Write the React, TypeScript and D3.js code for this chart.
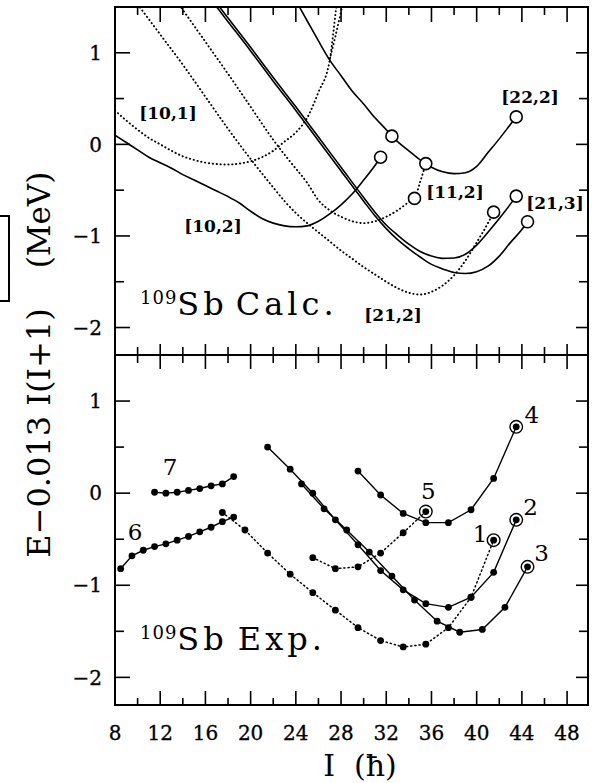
import React from 'react';
import * as d3 from 'd3';

// ---------- axes ----------
const xTickValues = [8, 10, 12, 14, 16, 18, 20, 22, 24, 26, 28, 30, 32, 34, 36, 38, 40, 42, 44, 46, 48];
const xTickLabels = [8, 12, 16, 20, 24, 28, 32, 36, 40, 44, 48];
const yTickValues = [-2, -1.5, -1, -0.5, 0, 0.5, 1];
const yTickLabels = [-2, -1, 0, 1];

// ---------- calculated curves (top panel) ----------
const c101I = [8, 9, 10, 11, 12, 13, 14, 15, 16, 17, 18, 19, 20, 21, 22, 23, 24, 25, 26, 27, 27.5, 27.8];
const c101E = [0.37, 0.26, 0.16, 0.07, 0.0, -0.07, -0.13, -0.17, -0.2, -0.215, -0.22, -0.21, -0.185, -0.14, -0.07, 0.03, 0.13, 0.29, 0.57, 0.92, 1.42, 1.75];
const c101bI = [27, 27.5, 28, 28.4];
const c101bE = [0.93, 1.18, 1.45, 1.66];
const c102I = [8, 9, 10, 11, 12, 13, 14, 15, 16, 17, 18, 19, 20, 21, 22, 23, 24, 25, 26, 27, 28, 29, 30, 31, 31.5];
const c102E = [0.1, 0.02, -0.06, -0.14, -0.2, -0.26, -0.33, -0.39, -0.45, -0.51, -0.57, -0.64, -0.73, -0.81, -0.86, -0.89, -0.9, -0.89, -0.84, -0.76, -0.66, -0.54, -0.39, -0.23, -0.14];
const c222I = [24, 25, 26, 27, 28, 29, 30, 31, 32, 32.5, 33, 34, 35, 35.5, 36, 37, 38, 39, 40, 41, 42, 43, 43.5];
const c222E = [1.57, 1.35, 1.13, 0.92, 0.75, 0.58, 0.44, 0.29, 0.16, 0.09, 0.03, -0.07, -0.17, -0.21, -0.25, -0.3, -0.32, -0.31, -0.24, -0.09, 0.06, 0.22, 0.3];
const c112I = [13.5, 14, 16, 18, 20, 22, 23.5, 25, 26, 27, 28, 29, 30, 31, 32, 33, 34, 34.5, 35, 35.5];
const c112E = [1.56, 1.47, 1.12, 0.77, 0.41, 0.05, -0.19, -0.42, -0.61, -0.72, -0.79, -0.84, -0.86, -0.84, -0.79, -0.72, -0.63, -0.59, -0.41, -0.21];
const c212I = [10, 12, 14, 16, 18, 20, 22, 23, 24, 25, 26, 27, 28, 29, 30, 31, 32, 33, 34, 35, 36, 37, 38, 39, 40, 41, 41.5];
const c212E = [1.53, 1.2, 0.87, 0.52, 0.17, -0.16, -0.47, -0.62, -0.75, -0.86, -0.96, -1.06, -1.16, -1.25, -1.34, -1.42, -1.5, -1.57, -1.62, -1.64, -1.61, -1.54, -1.43, -1.27, -1.07, -0.86, -0.74];
const c213I = [17, 18, 20, 22, 24, 26, 28, 30, 31, 32, 33, 34, 35, 36, 37, 38, 39, 40, 41, 42, 43, 43.5];
const c213E = [1.54, 1.38, 1.06, 0.73, 0.41, 0.08, -0.25, -0.58, -0.74, -0.88, -0.99, -1.09, -1.17, -1.22, -1.245, -1.24, -1.2, -1.1, -0.96, -0.81, -0.65, -0.565];
const c213bI = [17, 18, 20, 22, 24, 26, 28, 30, 31, 32, 33, 34, 35, 36, 37, 38, 39, 40, 41, 42, 43, 44, 44.5];
const c213bE = [1.5, 1.34, 1.02, 0.69, 0.37, 0.04, -0.29, -0.62, -0.78, -0.92, -1.04, -1.14, -1.23, -1.31, -1.36, -1.4, -1.41, -1.39, -1.33, -1.22, -1.07, -0.93, -0.845];

// open circles on calculated curves
const calcCircleI = [31.5, 32.5, 35.5, 43.5, 34.5, 41.5, 43.5, 44.5];
const calcCircleE = [-0.14, 0.09, -0.21, 0.3, -0.59, -0.74, -0.565, -0.845];

// ---------- experimental bands (bottom panel) ----------
const b1I = [17.5, 19.5, 21.5, 23.5, 25.5, 27.5, 29.5, 31.5, 33.5, 35.5, 37.5, 39.5, 41.5];
const b1E = [-0.21, -0.4, -0.65, -0.88, -1.08, -1.27, -1.46, -1.6, -1.67, -1.64, -1.46, -1.13, -0.51];
const b2I = [21.5, 23.5, 25.5, 27.5, 29.5, 31.5, 33.5, 35.5, 37.5, 39.5, 41.5, 43.5];
const b2E = [0.5, 0.26, 0.0, -0.29, -0.56, -0.84, -1.05, -1.2, -1.24, -1.13, -0.86, -0.29];
const b3I = [24.5, 26.5, 28.5, 30.5, 32.5, 34.5, 36.5, 38.5, 40.5, 42.5, 44.5];
const b3E = [0.1, -0.17, -0.4, -0.64, -0.9, -1.16, -1.39, -1.51, -1.48, -1.24, -0.8];
const b4I = [29.5, 31.5, 33.5, 35.5, 37.5, 39.5, 41.5, 43.5];
const b4E = [0.24, -0.02, -0.22, -0.32, -0.32, -0.18, 0.16, 0.72];
const b5I = [25.5, 27.5, 29.5, 31.5, 33.5, 35.5];
const b5E = [-0.7, -0.82, -0.8, -0.65, -0.43, -0.2];
const b6I = [8.5, 9.5, 10.5, 11.5, 12.5, 13.5, 14.5, 15.5, 16.5, 17.5, 18.5];
const b6E = [-0.82, -0.68, -0.62, -0.58, -0.55, -0.51, -0.47, -0.42, -0.37, -0.31, -0.26];
const b7I = [11.5, 12.5, 13.5, 14.5, 15.5, 16.5, 17.5, 18.5];
const b7E = [0.01, 0.0, 0.01, 0.03, 0.05, 0.08, 0.1, 0.18];

const bandNames = ['1', '2', '3', '4', '5', '6', '7'];
const bandLabelI = [40.3, 44.76, 45.75, 44.87, 35.72, 9.77, 12.87];
const bandLabelE = [-0.435, -0.145, -0.644, 0.849, 0.023, -0.418, 0.288];

const calcNames = ['[10,1]', '[10,2]', '[22,2]', '[11,2]', '[21,3]', '[21,2]'];
const calcLabelI = [12.69, 16.67, 44.72, 38.08, 46.93, 32.6];
const calcLabelE = [0.343, -0.89, 0.52, -0.52, -0.64, -1.86];

const FONT = "'DejaVu Serif', serif";

export default function App() {
  const x = d3.scaleLinear().domain([8, 49.85]).range([115, 588]);
  const yT = d3.scaleLinear().domain([-2.3, 1.5]).range([355, 7]);
  const yB = d3.scaleLinear().domain([-2.3, 1.5]).range([705, 355]);
  const L = x.range()[0], R = x.range()[1];

  const mk = (I: number[], E: number[], y: any, curve: any) =>
    d3.line<number>().x((_, i) => x(I[i])).y((_, i) => y(E[i])).curve(curve)(I) || '';

  const calcCurves = [
    { I: c101I, E: c101E, dotted: true },
    { I: c101bI, E: c101bE, dotted: true },
    { I: c112I, E: c112E, dotted: true },
    { I: c212I, E: c212E, dotted: true },
    { I: c102I, E: c102E, dotted: false },
    { I: c222I, E: c222E, dotted: false },
    { I: c213I, E: c213E, dotted: false },
    { I: c213bI, E: c213bE, dotted: false },
  ];

  const bands = [
    { I: b1I, E: b1E, dotted: true, ring: true },
    { I: b2I, E: b2E, dotted: false, ring: true },
    { I: b3I, E: b3E, dotted: false, ring: true },
    { I: b4I, E: b4E, dotted: false, ring: true },
    { I: b5I, E: b5E, dotted: true, ring: true },
    { I: b6I, E: b6E, dotted: false, ring: false },
    { I: b7I, E: b7E, dotted: false, ring: false },
  ];

  const yAxisTicks = (y: any, key: string) => (
    <g key={key}>
      {yTickValues.map((v) => {
        const major = Number.isInteger(v);
        return (
          <g key={v}>
            <line x1={L} x2={L + (major ? 15 : 9)} y1={y(v)} y2={y(v)} stroke="#000" strokeWidth={1.6} />
            <line x1={R} x2={R - (major ? 12 : 9)} y1={y(v)} y2={y(v)} stroke="#000" strokeWidth={1.6} />
          </g>
        );
      })}
      {yTickLabels.map((v) => (
        <text key={'l' + v} x={102} y={y(v)} dy="0.36em" textAnchor="end" fontSize={20} fontFamily={FONT}
          stroke="#000" strokeWidth={0.3}>
          {v < 0 ? '\u2212' + Math.abs(v) : String(v)}
        </text>
      ))}
    </g>
  );

  return (
    <svg width={596} height={783} style={{ position: 'absolute', left: 0, top: 0, background: '#fff' }}>
      <defs>
        <clipPath id="clipTop">
          <rect x={L} y={7} width={R - L} height={348} />
        </clipPath>
        <clipPath id="clipBot">
          <rect x={L} y={355} width={R - L} height={350} />
        </clipPath>
      </defs>
      <rect width={596} height={783} fill="#fff" />

      {/* scan artifact box at left edge */}
      <path d="M0,216 H9 V301 H0" fill="none" stroke="#000" strokeWidth={2} />

      {/* x ticks */}
      {xTickValues.map((v) => {
        const major = v % 4 === 0;
        const px = x(v);
        return (
          <g key={'xt' + v}>
            <line x1={px} x2={px} y1={7} y2={7 + (major ? 15 : 8)} stroke="#000" strokeWidth={1.6} />
            <line x1={px} x2={px} y1={355 - (major ? 11 : 8)} y2={355 + (major ? 14 : 8)} stroke="#000" strokeWidth={1.6} />
            <line x1={px} x2={px} y1={705} y2={705 - (major ? 14 : 7)} stroke="#000" strokeWidth={1.6} />
          </g>
        );
      })}
      {xTickLabels.map((v) => (
        <text key={'xl' + v} x={x(v)} y={740} textAnchor="middle" fontSize={20} fontFamily={FONT}
          stroke="#000" strokeWidth={0.3}>
          {v}
        </text>
      ))}

      {yAxisTicks(yT, 'yt')}
      {yAxisTicks(yB, 'yb')}

      {/* frames */}
      <rect x={L} y={7} width={R - L} height={698} fill="none" stroke="#000" strokeWidth={2} />
      <line x1={L} x2={R} y1={355} y2={355} stroke="#000" strokeWidth={2} />

      {/* top panel curves */}
      <g clipPath="url(#clipTop)">
        {calcCurves.map((c, i) => (
          <path
            key={'c' + i}
            d={mk(c.I, c.E, yT, d3.curveMonotoneX)}
            fill="none"
            stroke="#000"
            strokeWidth={c.dotted ? 1.9 : 1.6}
            strokeDasharray={c.dotted ? '0.3 3.6' : undefined}
            strokeLinecap="round"
          />
        ))}
        {calcCircleI.map((v, i) => (
          <circle key={'cc' + i} cx={x(v)} cy={yT(calcCircleE[i])} r={6} fill="#fff" stroke="#000" strokeWidth={1.6} />
        ))}
      </g>
      {calcNames.map((t, i) => (
        <text
          key={'cn' + i}
          x={x(calcLabelI[i])}
          y={yT(calcLabelE[i])}
          dy="0.35em"
          textAnchor="middle"
          fontSize={17}
          fontWeight="bold"
          fontFamily={FONT}
        >
          {t}
        </text>
      ))}

      {/* bottom panel bands */}
      <g clipPath="url(#clipBot)">
        {bands.map((b, i) => (
          <path
            key={'b' + i}
            d={mk(b.I, b.E, yB, d3.curveLinear)}
            fill="none"
            stroke="#000"
            strokeWidth={b.dotted ? 1.5 : 1.4}
            strokeDasharray={b.dotted ? '1.2 3' : undefined}
            strokeLinecap="round"
          />
        ))}
        {bands.map((b, i) => (
          <g key={'p' + i}>
            {b.I.map((v, j) => (
              <circle key={j} cx={x(v)} cy={yB(b.E[j])} r={3.4} fill="#000" />
            ))}
            {b.ring ? (
              <circle
                cx={x(b.I[b.I.length - 1])}
                cy={yB(b.E[b.E.length - 1])}
                r={6.3}
                fill="none"
                stroke="#000"
                strokeWidth={1.4}
              />
            ) : null}
          </g>
        ))}
      </g>
      {bandNames.map((t, i) => (
        <text
          key={'bn' + i}
          x={x(bandLabelI[i])}
          y={yB(bandLabelE[i])}
          dy="0.36em"
          textAnchor="middle"
          fontSize={23}
          fontFamily={FONT}
        >
          {t}
        </text>
      ))}

      {/* panel titles */}
      <text x={140} y={315} fontSize={32} fontFamily={FONT} letterSpacing={4}>
        <tspan fontSize={18} dy={-11} letterSpacing={1}>109</tspan>
        <tspan dy={11}>Sb</tspan>
        <tspan dx={8}>Calc.</tspan>
      </text>
      <text x={140} y={650} fontSize={32} fontFamily={FONT} letterSpacing={4}>
        <tspan fontSize={18} dy={-11} letterSpacing={1}>109</tspan>
        <tspan dy={11}>Sb</tspan>
        <tspan dx={10}>Exp.</tspan>
      </text>

      {/* axis titles */}
      <text transform="translate(50,433) rotate(-90)" textAnchor="middle" fontSize={32} fontFamily={FONT}>
        {'E\u22120.013 I(I+1)'}
      </text>
      <text transform="translate(50,220) rotate(-90)" textAnchor="middle" fontSize={31} fontFamily={FONT}>
        (MeV)
      </text>
      <text x={360} y={776} textAnchor="middle" fontSize={30} fontFamily={FONT} xmlSpace="preserve">
        {'I  (\u0127)'}
      </text>
    </svg>
  );
}
